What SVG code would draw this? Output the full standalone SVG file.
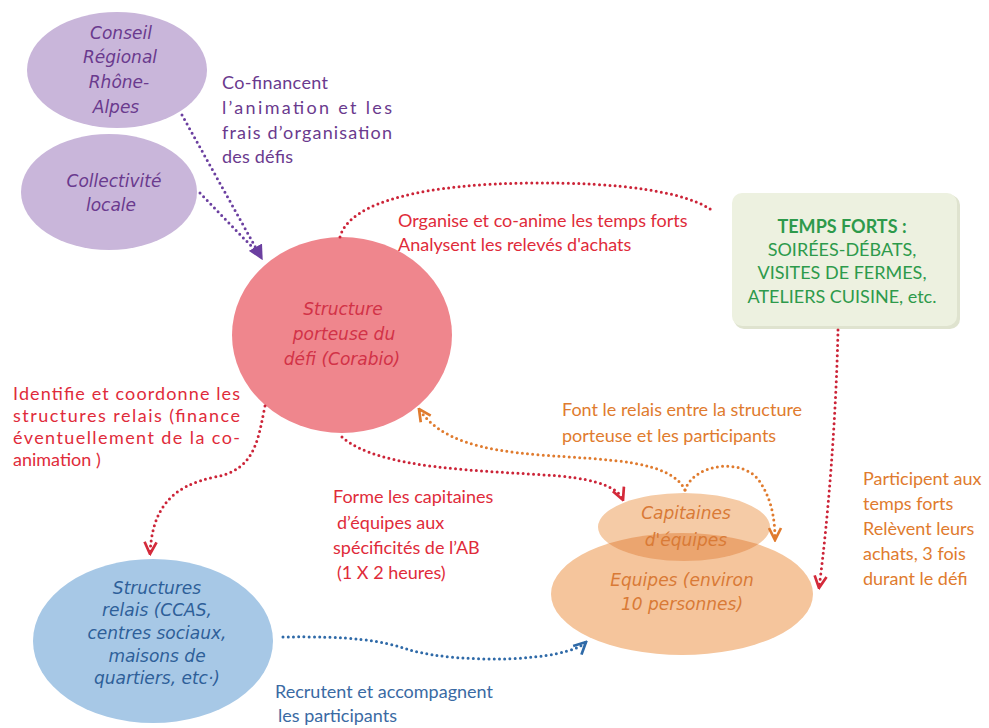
<svg xmlns="http://www.w3.org/2000/svg" width="989" height="728" viewBox="0 0 989 728">
<defs>
<style>
.hand{font-family:"DejaVu Sans","Liberation Sans",sans-serif;font-style:italic;font-size:17px;text-anchor:middle}
.body{font-family:Lato,"Liberation Sans",sans-serif;font-size:18px}
.dot{fill:none;stroke-width:3;stroke-linecap:round;stroke-dasharray:0 5.2}
.purple{fill:#6a3a8e}
.red{fill:#e02b3a}
.orange{fill:#e07b2e}
.blue{fill:#3a6aa3}
.green{fill:#2d9a4b}
</style>
<marker id="aPurple" viewBox="0 0 10 10" refX="9" refY="5" markerWidth="5" markerHeight="5" orient="auto" markerUnits="strokeWidth"><path d="M0,0 L10,5 L0,10 z" fill="#6b3fa0"/></marker>
<marker id="aRed" viewBox="0 0 10 10" refX="9" refY="5" markerWidth="5" markerHeight="5" orient="auto" markerUnits="strokeWidth"><path d="M1,1 L9,5 L1,9" fill="none" stroke="#d42a3a" stroke-width="1.8"/></marker>
<marker id="aOrange" viewBox="0 0 10 10" refX="9" refY="5" markerWidth="5" markerHeight="5" orient="auto" markerUnits="strokeWidth"><path d="M1,1 L9,5 L1,9" fill="none" stroke="#e07b2e" stroke-width="1.8"/></marker>
<marker id="aBlue" viewBox="0 0 10 10" refX="9" refY="5" markerWidth="5" markerHeight="5" orient="auto" markerUnits="strokeWidth"><path d="M1,1 L9,5 L1,9" fill="none" stroke="#2f6aa8" stroke-width="1.8"/></marker>
<clipPath id="clipEq"><ellipse cx="682" cy="594" rx="131" ry="61"/></clipPath>
</defs>
<rect width="989" height="728" fill="#ffffff"/>

<g id="conseil">
<ellipse cx="117" cy="70" rx="90" ry="58" fill="#c9b6da"/>
<text class="hand purple" x="121" y="39">Conseil</text>
<text class="hand purple" x="120" y="63">Régional</text>
<text class="hand purple" x="119" y="88">Rhône-</text>
<text class="hand purple" x="116" y="113">Alpes</text>
</g>

<g id="collectivite">
<ellipse cx="109" cy="192" rx="88" ry="58" fill="#c9b6da"/>
<text class="hand purple" x="114" y="187">Collectivité</text>
<text class="hand purple" x="111" y="211">locale</text>
</g>

<g id="structure-porteuse">
<ellipse cx="342" cy="335" rx="110" ry="98" fill="#ef868d"/>
<text class="hand" fill="#d23247" x="343" y="315">Structure</text>
<text class="hand" fill="#d23247" x="344" y="340">porteuse du</text>
<text class="hand" fill="#d23247" x="342" y="365">défi (Corabio)</text>
</g>

<g id="temps-forts">
<rect x="734" y="195" width="226" height="134" rx="10" fill="#dfe3cf"/>
<rect x="732" y="193" width="225" height="133" rx="10" fill="#edf1e0"/>
<text class="body green" text-anchor="middle" font-weight="bold" font-size="17.5" x="842" y="233">TEMPS FORTS :</text>
<text class="body green" text-anchor="middle" font-size="17.5" x="842" y="256">SOIRÉES-DÉBATS,</text>
<text class="body green" text-anchor="middle" font-size="17.5" x="842" y="279">VISITES DE FERMES,</text>
<text class="body green" text-anchor="middle" font-size="17.5" x="842" y="303">ATELIERS CUISINE, etc.</text>
</g>

<g id="structures-relais">
<ellipse cx="153" cy="641" rx="120" ry="82" fill="#a7c8e6"/>
<text class="hand" fill="#2e5f99" x="157" y="594">Structures</text>
<text class="hand" fill="#2e5f99" x="157" y="616">relais (CCAS,</text>
<text class="hand" fill="#2e5f99" x="157" y="639">centres sociaux,</text>
<text class="hand" fill="#2e5f99" x="157" y="662">maisons de</text>
<text class="hand" fill="#2e5f99" x="157" y="684">quartiers, etc·)</text>
</g>

<g id="equipes">
<ellipse cx="682" cy="594" rx="131" ry="61" fill="#f5c59c"/>
<text class="hand" fill="#d97a36" x="682" y="586">Equipes (environ</text>
<text class="hand" fill="#d97a36" x="682" y="610">10 personnes)</text>
</g>

<g id="capitaines">
<ellipse cx="684" cy="527" rx="86" ry="34" fill="#f5cba6"/>
<ellipse cx="684" cy="527" rx="86" ry="34" fill="#eba56f" clip-path="url(#clipEq)"/>
<text class="hand" fill="#d97a36" x="686" y="519">Capitaines</text>
<text class="hand" fill="#d97a36" x="686" y="546">d'équipes</text>
</g>

<g id="connectors">
<path class="dot" stroke="#6b3fa0" d="M182,115 L262,259" marker-end="url(#aPurple)"/>
<path class="dot" stroke="#6b3fa0" d="M200,193 L257,252"/>
<path class="dot" stroke="#cc2438" d="M340,237 C350,200 430,184 530,183 C620,182 690,192 714,212"/>
<path class="dot" stroke="#cc2438" d="M838,330 C836,420 828,520 819,588" marker-end="url(#aRed)"/>
<path class="dot" stroke="#cc2438" d="M265,406 C258,440 255,470 215,477 C170,486 152,510 150,554" marker-end="url(#aRed)"/>
<path class="dot" stroke="#cc2438" d="M342,437 C380,470 480,470 560,476 C600,480 618,488 623,500" marker-end="url(#aRed)"/>
<path class="dot" stroke="#e07b2e" d="M685,490 C670,460 610,460 540,455 C480,450 440,440 419,409" marker-end="url(#aOrange)"/>
<path class="dot" stroke="#e07b2e" d="M685,490 C695,462 745,458 760,482 C772,500 775,520 775,540" marker-end="url(#aOrange)"/>
<path class="dot" stroke="#2f6aa8" d="M283,637 C350,636 380,640 410,650 C460,664 565,662 586,642" marker-end="url(#aBlue)"/>
</g>

<g id="labels">
<text class="body purple" x="222" y="89" textLength="106">Co-financent</text>
<text class="body purple" x="222" y="114" textLength="170">l’animation et les</text>
<text class="body purple" x="222" y="139" textLength="170">frais d’organisation</text>
<text class="body purple" x="222" y="163" textLength="71">des défis</text>

<text class="body red" x="398" y="227">Organise et co-anime les temps forts</text>
<text class="body red" x="398" y="251">Analysent les relevés d'achats</text>

<text class="body red" x="13" y="400" textLength="227">Identifie et coordonne les</text>
<text class="body red" x="13" y="422" textLength="227">structures relais (finance</text>
<text class="body red" x="13" y="444" textLength="227">éventuellement de la    co-</text>
<text class="body red" x="13" y="466">animation )</text>

<text class="body orange" x="562" y="416">Font le relais entre la structure</text>
<text class="body orange" x="562" y="442">porteuse et les participants</text>

<text class="body red" x="333" y="503">Forme  les capitaines</text>
<text class="body red" x="337" y="529">d’équipes aux</text>
<text class="body red" x="333" y="554">spécificités de l’AB</text>
<text class="body red" x="337" y="579">(1 X 2 heures)</text>

<text class="body orange" x="863" y="485">Participent aux</text>
<text class="body orange" x="863" y="510">temps forts</text>
<text class="body orange" x="863" y="535">Relèvent leurs</text>
<text class="body orange" x="863" y="560">achats, 3 fois</text>
<text class="body orange" x="863" y="585">durant le défi</text>

<text class="body blue" x="275" y="698">Recrutent et accompagnent</text>
<text class="body blue" x="278" y="722">les participants</text>
</g>
</svg>
